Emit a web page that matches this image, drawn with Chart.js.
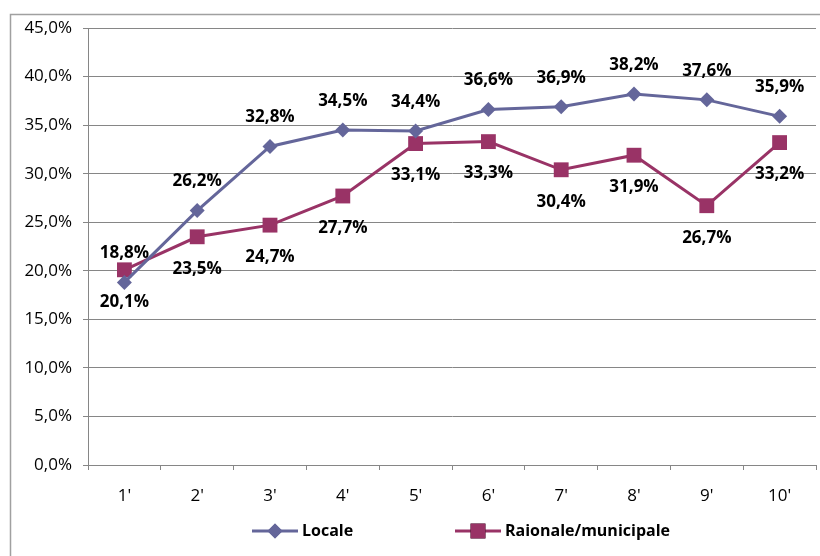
<!DOCTYPE html>
<html>
<head>
<meta charset="utf-8">
<script src="https://cdn.jsdelivr.net/npm/chart.js@4"></script>
<style>
  html, body { margin: 0; padding: 0; background: #fff; overflow: hidden; }
  #wrap { width: 820px; height: 556px; }
</style>
</head>
<body>
<div id="wrap"><canvas id="myChart" width="820" height="556"></canvas></div>
<script>
// chart data
const categories = ["1'", "2'", "3'", "4'", "5'", "6'", "7'", "8'", "9'", "10'"];
const locale = [18.8, 26.2, 32.8, 34.5, 34.4, 36.6, 36.9, 38.2, 37.6, 35.9];
const raionale = [20.1, 23.5, 24.7, 27.7, 33.1, 33.3, 30.4, 31.9, 26.7, 33.2];
const seriesNames = ['Locale', 'Raionale/municipale'];
const yTicks = [0, 5, 10, 15, 20, 25, 30, 35, 40, 45];

const FONT = '"Open Sans", Lato, sans-serif';

function pct(v) {
    return v.toFixed(1).replace('.', ',') + '%';
}

// big square markers make chart.js reserve extra room on the right, we don't want that
Chart.LineController.prototype.getMaxOverflow = function () { return 2; };

// outer frame like the excel chart border
const framePlugin = {
    id: 'frame',
    beforeDraw(chart) {
        const ctx = chart.ctx;
        ctx.save();
        ctx.fillStyle = '#fff';
        ctx.fillRect(0, 0, chart.width, chart.height);
        ctx.strokeStyle = '#a0a0a0';
        ctx.lineWidth = 1.5;
        ctx.strokeRect(10.5, 14.5, 900, 900);
        ctx.restore();
    }
};

// value labels: first series above, second below
const labelPlugin = {
    id: 'valueLabels',
    afterDatasetsDraw(chart) {
        const ctx = chart.ctx;
        ctx.save();
        ctx.font = 'bold 17px ' + FONT;
        ctx.fillStyle = '#000';
        ctx.textAlign = 'center';
        ctx.textBaseline = 'middle';
        chart.data.datasets.forEach((ds, i) => {
            const meta = chart.getDatasetMeta(i);
            meta.data.forEach((pt, j) => {
                const dy = i === 0 ? -29 : 32;
                ctx.fillText(pct(ds.data[j]), pt.x, pt.y + dy);
            });
        });
        ctx.restore();
    }
};

// legend with line + marker, drawn at the bottom
const legendPlugin = {
    id: 'lineLegend',
    afterDraw(chart) {
        const ctx = chart.ctx;
        const y = 531;
        const starts = [252, 455];
        ctx.save();
        ctx.font = 'bold 16px ' + FONT;
        ctx.textBaseline = 'middle';
        ctx.textAlign = 'left';
        chart.data.datasets.forEach((ds, i) => {
            const x0 = starts[i];
            ctx.strokeStyle = ds.borderColor;
            ctx.lineWidth = 3;
            ctx.beginPath();
            ctx.moveTo(x0, y);
            ctx.lineTo(x0 + 46, y);
            ctx.stroke();
            Chart.helpers.drawPoint(ctx, {
                pointStyle: ds.pointStyle,
                radius: ds.pointRadius,
                borderWidth: 0,
                rotation: 0
            }, x0 + 23, y);
            ctx.fillStyle = ds.pointBackgroundColor;
            ctx.fill();
            ctx.fillStyle = '#000';
            ctx.fillText(ds.label, x0 + 50, y);
        });
        ctx.restore();
    }
};

const ctx = document.getElementById('myChart').getContext('2d');

new Chart(ctx, {
    type: 'line',
    data: {
        labels: categories,
        datasets: [{
            label: seriesNames[0],
            data: locale,
            borderColor: '#64669a',
            backgroundColor: '#64669a',
            pointBackgroundColor: '#64669a',
            pointBorderColor: '#64669a',
            borderWidth: 3,
            pointStyle: 'rectRot',
            pointRadius: 7.5,
            pointBorderWidth: 0,
            tension: 0,
            clip: false
        }, {
            label: seriesNames[1],
            data: raionale,
            borderColor: '#993366',
            backgroundColor: '#993366',
            pointBackgroundColor: '#993366',
            pointBorderColor: '#993366',
            borderWidth: 3,
            pointStyle: 'rect',
            pointRadius: 10.5,
            pointBorderWidth: 0,
            tension: 0,
            clip: false
        }]
    },
    options: {
        responsive: false,
        animation: false,
        events: [],
        layout: { padding: { left: 10, top: 28, right: 4, bottom: 0 } },
        plugins: {
            legend: { display: false },
            tooltip: { enabled: false }
        },
        scales: {
            x: {
                offset: true,
                afterFit: (s) => { s.height = 91; s.paddingLeft = 0; s.paddingRight = 0; },
                grid: {
                    offset: true,
                    drawOnChartArea: false,
                    drawTicks: true,
                    tickLength: 5,
                    color: '#868686'
                },
                border: { color: '#868686', width: 1 },
                ticks: {
                    padding: 16,
                    color: '#000',
                    font: { family: FONT, size: 17 }
                }
            },
            y: {
                min: 0,
                max: 45,
                afterFit: (s) => { s.width = 78; },
                afterBuildTicks: (s) => { s.ticks = yTicks.map(v => ({ value: v })); },
                grid: {
                    color: '#868686',
                    drawTicks: true,
                    tickLength: 5
                },
                border: { color: '#868686', width: 1 },
                ticks: {
                    padding: 11,
                    color: '#000',
                    font: { family: FONT, size: 17 },
                    callback: (v) => pct(v)
                }
            }
        }
    },
    plugins: [framePlugin, labelPlugin, legendPlugin]
});
</script>
</body>
</html>
